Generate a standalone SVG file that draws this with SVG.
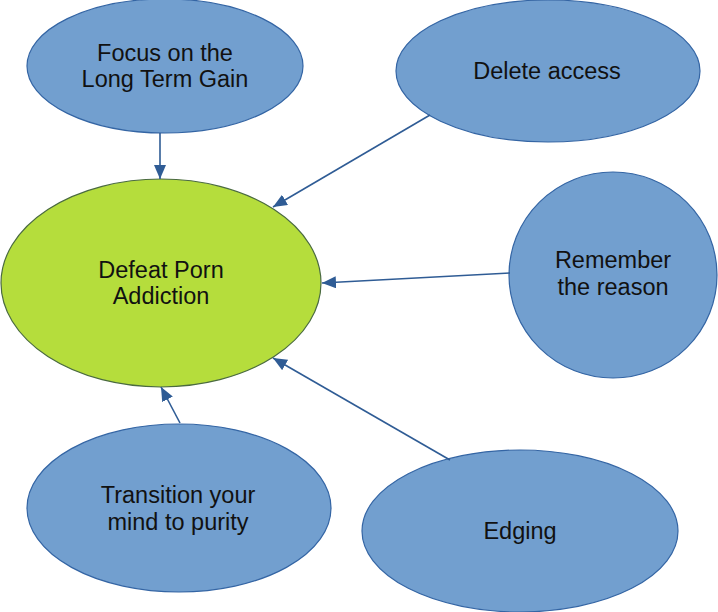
<svg xmlns="http://www.w3.org/2000/svg" width="718" height="612" viewBox="0 0 718 612">
  <style>
    .node { fill: #729fcf; stroke: #3465a4; stroke-width: 1.2; }
    .main { fill: #b5dd3c; stroke: #4a6a40; stroke-width: 1.2; }
    .lbl { font-family: "Liberation Sans", Arial, sans-serif; font-size: 23.5px; fill: #111; text-anchor: middle; }
    .edge { stroke: #2f5c95; stroke-width: 1.6; fill: none; marker-end: url(#arr); }
  </style>
  <defs>
    <marker id="arr" markerUnits="userSpaceOnUse" markerWidth="14" markerHeight="12" viewBox="0 0 14 12" refX="14" refY="6" orient="auto">
      <path d="M0,0 L14,6 L0,12 Z" fill="#2f5c95"/>
    </marker>
  </defs>
  <rect width="718" height="612" fill="#ffffff"/>
  <g id="main">
    <ellipse class="main" cx="161" cy="283" rx="160" ry="104"/>
    <text class="lbl" x="161" y="278">Defeat Porn</text>
    <text class="lbl" x="161" y="304">Addiction</text>
  </g>
  <g id="focus">
    <ellipse class="node" cx="165" cy="66" rx="138" ry="67"/>
    <text class="lbl" x="165" y="61">Focus on the</text>
    <text class="lbl" x="165" y="87">Long Term Gain</text>
  </g>
  <g id="delete">
    <ellipse class="node" cx="548" cy="71" rx="152" ry="71"/>
    <text class="lbl" x="547" y="79">Delete access</text>
  </g>
  <g id="remember">
    <ellipse class="node" cx="613" cy="275" rx="104" ry="103"/>
    <text class="lbl" x="613" y="268">Remember</text>
    <text class="lbl" x="613" y="295">the reason</text>
  </g>
  <g id="transition">
    <ellipse class="node" cx="179" cy="508" rx="152" ry="84"/>
    <text class="lbl" x="178" y="503">Transition your</text>
    <text class="lbl" x="178" y="530">mind to purity</text>
  </g>
  <g id="edging">
    <ellipse class="node" cx="520" cy="531" rx="158" ry="81"/>
    <text class="lbl" x="520" y="539">Edging</text>
  </g>
  <g id="connectors">
    <line class="edge" x1="160" y1="133" x2="160" y2="179"/>
    <line class="edge" x1="430" y1="115" x2="273" y2="207"/>
    <line class="edge" x1="510" y1="273" x2="322" y2="283"/>
    <line class="edge" x1="180" y1="423" x2="161" y2="387"/>
    <line class="edge" x1="450" y1="460" x2="273" y2="358"/>
  </g>
</svg>
